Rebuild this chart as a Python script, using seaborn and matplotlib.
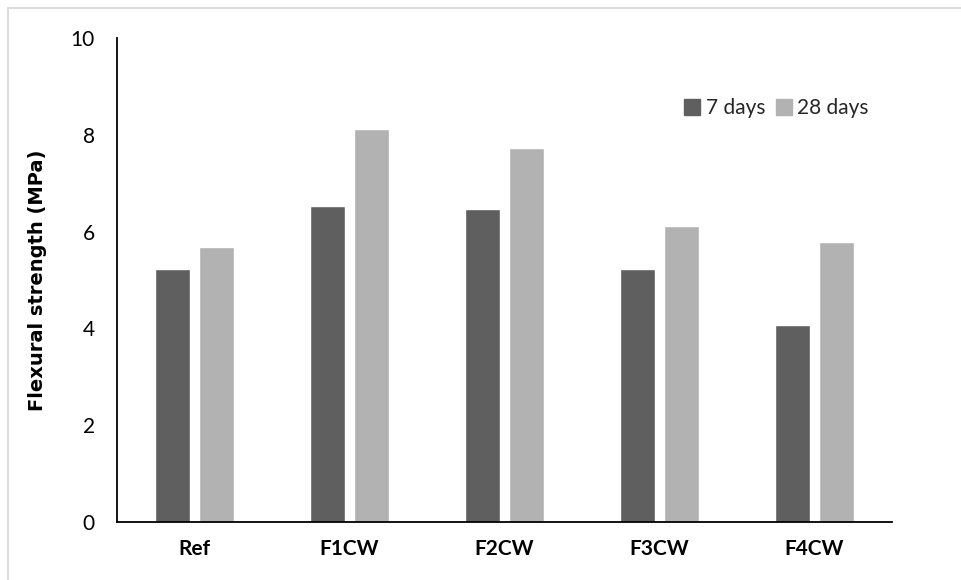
import matplotlib
matplotlib.use("Agg")
import matplotlib.pyplot as plt
from matplotlib.lines import Line2D
import seaborn as sns
import pandas as pd

# Flexural strength of the mixes at two curing ages
mixes = ["Ref", "F1CW", "F2CW", "F3CW", "F4CW"]
ages = ["7 days", "28 days"]
strength_7d = [5.22, 6.52, 6.47, 5.22, 4.06]
strength_28d = [5.68, 8.13, 7.72, 6.11, 5.79]
y_ticks = [0, 2, 4, 6, 8, 10]

df = pd.DataFrame({
    "mix": mixes * 2,
    "age": [ages[0]] * len(mixes) + [ages[1]] * len(mixes),
    "strength": strength_7d + strength_28d,
})

sns.set_theme(style="white")
plt.rcParams["font.family"] = ["Lato", "DejaVu Sans"]

W, H = 961, 580
fig = plt.figure(figsize=(W / 100, H / 100), dpi=100)
ax = fig.add_axes([117 / W, 1 - 522 / H, (892 - 117) / W, (522 - 38) / H])

palette = {"7 days": "#5f5f5f", "28 days": "#b2b2b2"}
sns.barplot(data=df, x="mix", y="strength", hue="age", order=mixes,
            hue_order=ages, palette=palette, width=0.564, gap=0.206,
            errorbar=None, saturation=1, ax=ax, legend=False)

ax.set_xlim(-0.5, len(mixes) - 0.5)
ax.set_ylim(0, 10)
ax.set_yticks(y_ticks)
ax.set_yticklabels([str(t) for t in y_ticks])

for side in ("top", "right"):
    ax.spines[side].set_visible(False)
for side in ("left", "bottom"):
    ax.spines[side].set_color("black")
    ax.spines[side].set_linewidth(1.3)

ax.tick_params(axis="y", length=0, pad=16, labelsize=15, labelcolor="black")
ax.tick_params(axis="x", length=0, pad=12, labelsize=15, labelcolor="black")
for lbl in ax.get_xticklabels():
    lbl.set_fontweight("bold")

ax.set_xlabel("")
ax.set_ylabel("Flexural strength (MPa)", fontsize=14, fontweight="bold",
              family="DejaVu Sans", color="black")
ax.yaxis.set_label_coords((47 - 117) / (892 - 117), 0.5)

handles = [Line2D([], [], marker="s", linestyle="none", markersize=11,
                  markerfacecolor=palette[a], markeredgecolor=palette[a])
           for a in ages]
ax.legend(handles, ages, loc="center right", frameon=False, ncol=2,
          bbox_to_anchor=(869 / W, 1 - 108 / H), bbox_transform=fig.transFigure,
          fontsize=15, handlelength=0.8, handletextpad=0.25, columnspacing=0.5,
          borderpad=0, borderaxespad=0)

# light frame around the chart area
frame = plt.Rectangle((8 / W, -0.05), 1.1, 1 - 8 / H + 0.05,
                      transform=fig.transFigure, fill=False,
                      edgecolor="#d9d9d9", linewidth=1.3, clip_on=False)
fig.patches.append(frame)

fig.savefig("out.png", dpi=100)
